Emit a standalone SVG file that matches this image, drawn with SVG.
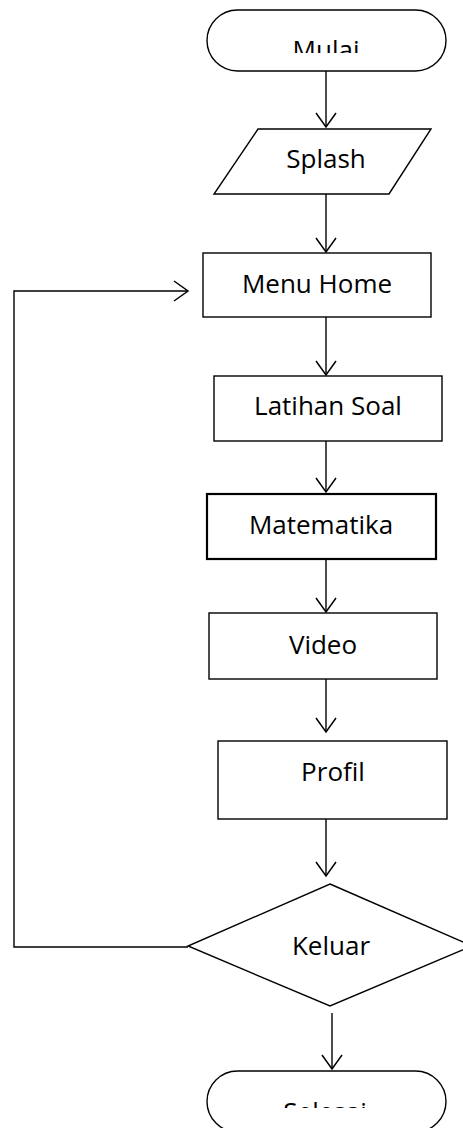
<svg xmlns="http://www.w3.org/2000/svg" width="463" height="1128" viewBox="0 0 463 1128">
<style>
.shape{fill:#fff;stroke:#000;stroke-width:1.4}
.thick{stroke-width:2.2}
.conn{fill:none;stroke:#000;stroke-width:1.4}
.lbl{font-family:"Open Sans","Noto Sans",sans-serif;font-size:26px;fill:#000;text-anchor:middle}
</style>
<defs>
<marker id="arr" markerUnits="userSpaceOnUse" markerWidth="20" markerHeight="24" refX="14" refY="10" orient="auto" viewBox="-2 -2 20 24">
<path d="M0,0 L14,10 L0,20" fill="none" stroke="#000" stroke-width="1.5"/>
</marker>
<clipPath id="clipMulai"><rect x="207" y="10" width="239" height="43"/></clipPath>
<clipPath id="clipSelesai"><rect x="207" y="1071" width="239" height="37"/></clipPath>
</defs>
<g id="connectors">
<line class="conn" x1="326" y1="71" x2="326" y2="127" marker-end="url(#arr)"/>
<line class="conn" x1="326" y1="194" x2="326" y2="252" marker-end="url(#arr)"/>
<line class="conn" x1="326" y1="317" x2="326" y2="375" marker-end="url(#arr)"/>
<line class="conn" x1="326" y1="441" x2="326" y2="492" marker-end="url(#arr)"/>
<line class="conn" x1="326" y1="559" x2="326" y2="612" marker-end="url(#arr)"/>
<line class="conn" x1="326" y1="679" x2="326" y2="732" marker-end="url(#arr)"/>
<line class="conn" x1="326" y1="819" x2="326" y2="876" marker-end="url(#arr)"/>
<line class="conn" x1="332" y1="1013" x2="332" y2="1069" marker-end="url(#arr)"/>
<polyline class="conn" points="188,947 14,947 14,291 188,291" marker-end="url(#arr)"/>
</g>
<g id="mulai">
<rect class="shape" x="207" y="10" width="239" height="61" rx="30.5" ry="30.5"/>
<text class="lbl" x="326" y="59" clip-path="url(#clipMulai)">Mulai</text>
</g>
<g id="splash">
<polygon class="shape" points="258,129 431,129 389,194 214,194"/>
<text class="lbl" x="326" y="168">Splash</text>
</g>
<g id="menu-home">
<rect class="shape" x="203" y="253" width="228" height="64"/>
<text class="lbl" x="317" y="293">Menu Home</text>
</g>
<g id="latihan-soal">
<rect class="shape" x="214" y="376" width="228" height="65"/>
<text class="lbl" x="328" y="415">Latihan Soal</text>
</g>
<g id="matematika">
<rect class="shape thick" x="207" y="494" width="229" height="65"/>
<text class="lbl" x="321" y="534">Matematika</text>
</g>
<g id="video">
<rect class="shape" x="209" y="613" width="228" height="66"/>
<text class="lbl" x="323" y="654">Video</text>
</g>
<g id="profil">
<rect class="shape" x="218" y="741" width="229" height="78"/>
<text class="lbl" x="333" y="781">Profil</text>
</g>
<g id="keluar">
<polygon class="shape" points="330,884 472,946 330,1006 188,946"/>
<text class="lbl" x="331" y="955">Keluar</text>
</g>
<g id="selesai">
<rect class="shape" x="207" y="1071" width="239" height="61" rx="30.5" ry="30.5"/>
<text class="lbl" x="325" y="1121" clip-path="url(#clipSelesai)">Selesai</text>
</g>
</svg>
